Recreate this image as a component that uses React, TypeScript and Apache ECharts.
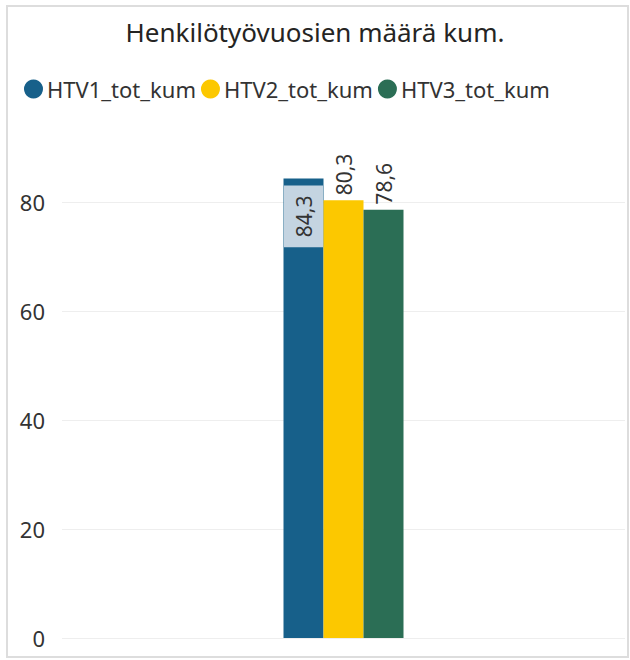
import React, { useEffect, useRef } from "react";
import * as echarts from "echarts";

const categories = [""];
const seriesNames = ["HTV1_tot_kum", "HTV2_tot_kum", "HTV3_tot_kum"];
const htv1 = [84.3];
const htv2 = [80.3];
const htv3 = [78.6];
const colors = ["#17608a", "#fcc800", "#2b6e55"];
const yTicks = [0, 20, 40, 60, 80];

const fmt = (v: number) => v.toFixed(1).replace(".", ",");

export default function App() {
  const ref = useRef<HTMLDivElement>(null);
  useEffect(() => {
    if (!ref.current) return;
    const chart = echarts.init(ref.current, undefined, { renderer: "svg" });
    const font = "'Noto Sans', 'Open Sans', sans-serif";
    const outsideLabel = {
      show: true,
      position: "top",
      rotate: 90,
      align: "left",
      verticalAlign: "middle",
      distance: 5,
      fontSize: 21,
      fontFamily: font,
      color: "#333333",
      formatter: (p: any) => fmt(p.value),
    };
    chart.setOption({
      animation: false,
      textStyle: { fontFamily: font },
      title: {
        text: "Henkilötyövuosien määrä kum.",
        left: "center",
        top: 14,
        textStyle: { fontSize: 26, fontWeight: "normal", color: "#252423", fontFamily: font },
      },
      legend: {
        data: seriesNames,
        left: 19,
        top: 73,
        icon: "circle",
        itemWidth: 19,
        itemHeight: 19,
        itemGap: 5,
        textStyle: { fontSize: 22, color: "#333333", fontFamily: font, padding: [0, 0, 0, -1] },
      },
      grid: { left: 62, right: 5, top: 93, bottom: 22, containLabel: false },
      xAxis: {
        type: "category",
        data: categories,
        axisLine: { show: false },
        axisTick: { show: false },
        axisLabel: { show: false },
      },
      yAxis: {
        type: "value",
        min: 0,
        max: 100,
        interval: 20,
        axisLine: { show: false },
        axisTick: { show: false },
        axisLabel: {
          fontSize: 22,
          color: "#333333",
          margin: 17,
          fontFamily: font,
          showMaxLabel: false,
          formatter: (v: number) => (yTicks.includes(v) ? String(v) : ""),
        },
        splitLine: { show: true, showMaxLine: false, lineStyle: { color: "#eeeeee", width: 1 } },
      },
      series: [
        {
          name: seriesNames[0],
          type: "bar",
          data: htv1,
          barWidth: 40,
          barGap: "0%",
          itemStyle: { color: colors[0] },
          label: {
            show: true,
            position: "insideTop",
            rotate: 90,
            align: "right",
            verticalAlign: "middle",
            distance: 7,
            fontSize: 21,
            fontFamily: font,
            color: "#333333",
            backgroundColor: "#c4d4e1",
            padding: [9, 10, 9, 10],
            formatter: (p: any) => fmt(p.value),
          },
        },
        {
          name: seriesNames[1],
          type: "bar",
          data: htv2,
          barWidth: 40,
          barGap: "0%",
          itemStyle: { color: colors[1] },
          label: outsideLabel,
        },
        {
          name: seriesNames[2],
          type: "bar",
          data: htv3,
          barWidth: 40,
          barGap: "0%",
          itemStyle: { color: colors[2] },
          label: outsideLabel,
        },
      ],
      graphic: [
        {
          type: "rect",
          silent: true,
          shape: { x: 7, y: 6, width: 621, height: 651 },
          style: { fill: "none", stroke: "#dddddd", lineWidth: 2 },
        },
      ],
    });
    return () => chart.dispose();
  }, []);
  return (
    <div
      ref={ref}
      style={{ position: "fixed", left: 0, top: 0, width: 630, height: 660, background: "#ffffff" }}
    />
  );
}
